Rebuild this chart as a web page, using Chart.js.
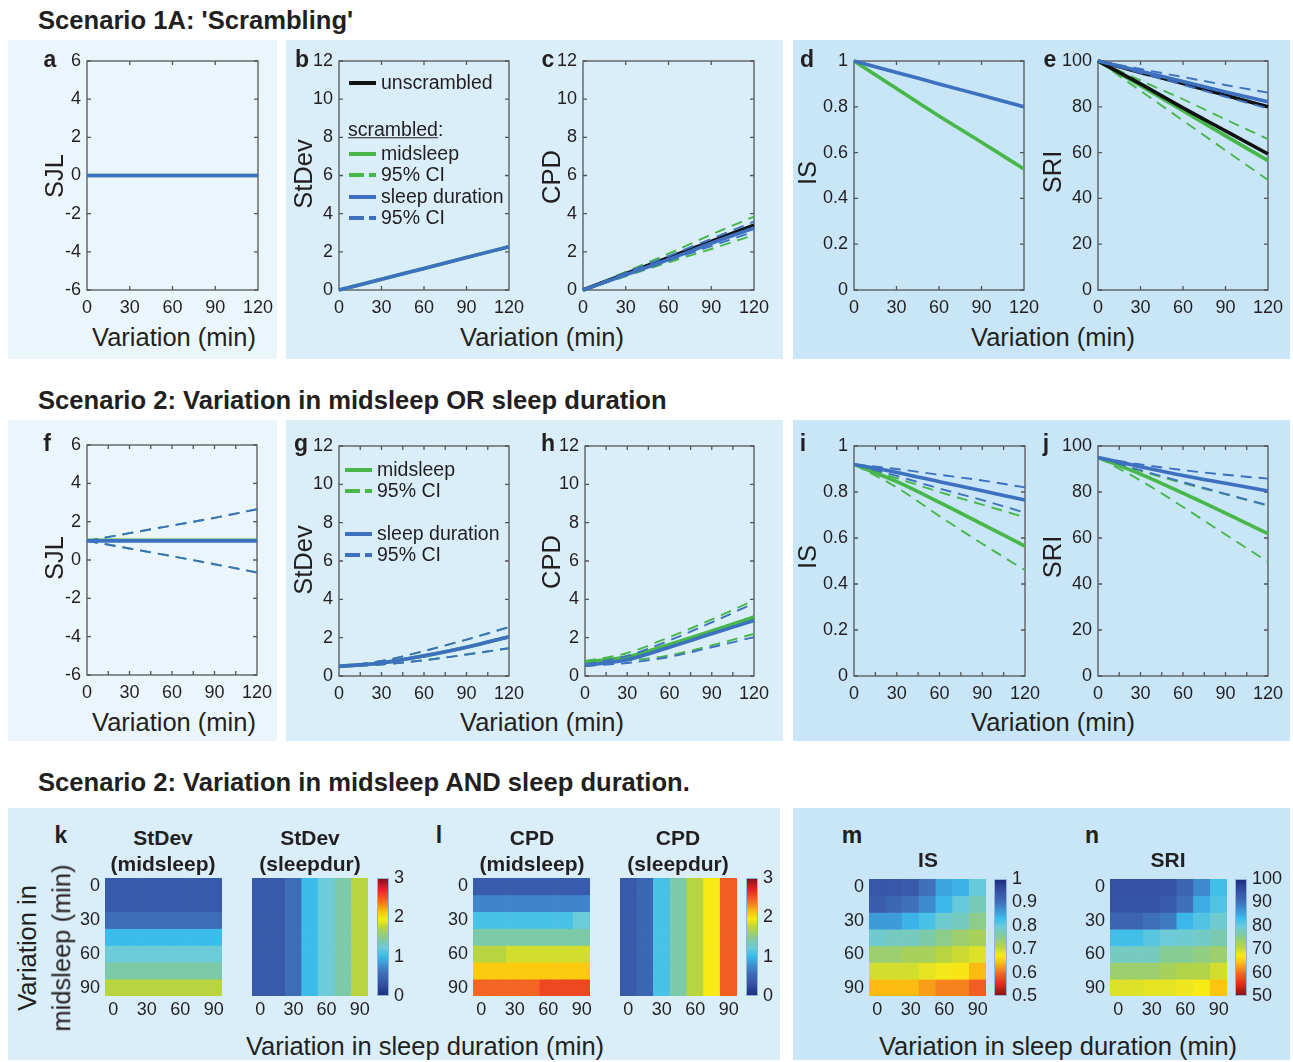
<!DOCTYPE html>
<html>
<head>
<meta charset="utf-8">
<script src="https://cdn.jsdelivr.net/npm/chart.js@4.4.0/dist/chart.umd.min.js"></script>
<style>
body { margin: 0; background: #fff; font-family: "Liberation Sans", Arial, sans-serif; color: #231f20; }
#fig { position: relative; width: 1293px; height: 1062px; overflow: hidden; }
.bg { position: absolute; }
.t { position: absolute; white-space: nowrap; line-height: 1; }
canvas { position: absolute; }
.sw { position: absolute; height: 4px; }
</style>
</head>
<body>
<div id="fig"></div>
<script>
'use strict';

// ---------- data ----------
var xs = [0, 30, 60, 90, 120];

// Scenario 1A (scrambling)
var sjlA_mid = [0, 0, 0, 0, 0];
var sjlA_dur = [0, 0, 0, 0, 0];
var sdA_mid = [0, 0.56, 1.13, 1.7, 2.27];
var sdA_dur = [0, 0.56, 1.13, 1.7, 2.27];
var cpdA_unscr = [0, 0.85, 1.7, 2.55, 3.4];
var cpdA_mid = [0, 0.83, 1.68, 2.5, 3.35];
var cpdA_midHi = [0, 0.95, 1.9, 2.9, 3.85];
var cpdA_midLo = [0, 0.72, 1.45, 2.15, 2.88];
var cpdA_dur = [0, 0.8, 1.6, 2.45, 3.25];
var cpdA_durHi = [0, 0.9, 1.78, 2.68, 3.58];
var cpdA_durLo = [0, 0.77, 1.53, 2.3, 3.06];
var isA_mid = [1, 0.88, 0.76, 0.645, 0.528];
var isA_dur = [1, 0.95, 0.9, 0.85, 0.8];
var sriA_unscrMid = [100, 90, 79.5, 69.5, 59.4];
var sriA_unscrDur = [100, 95, 90.2, 85, 80];
var sriA_mid = [100, 89.2, 78.3, 67.3, 56.5];
var sriA_midHi = [100, 91.5, 83.3, 74.5, 65.9];
var sriA_midLo = [100, 87, 74, 61, 48];
var sriA_dur = [100, 95.5, 91, 86.5, 82.2];
var sriA_durHi = [100, 96.5, 93, 89.5, 86.2];
var sriA_durLo = [100, 94.8, 89.6, 84.4, 79.3];

// Scenario 2 (midsleep OR sleep duration)
var sjlB_mid = [1.03, 1.03, 1.03, 1.03, 1.03];
var sjlB_midHi = [1, 1.4, 1.8, 2.2, 2.65];
var sjlB_midLo = [1, 0.6, 0.2, -0.22, -0.65];
var sjlB_dur = [1, 1, 1, 1, 1];
var sjlB_durHi = [1, 1.4, 1.8, 2.2, 2.65];
var sjlB_durLo = [1, 0.6, 0.2, -0.22, -0.65];
var sdB_mid = [0.5, 0.68, 1.05, 1.5, 2.05];
var sdB_midHi = [0.5, 0.78, 1.3, 1.9, 2.55];
var sdB_midLo = [0.5, 0.6, 0.82, 1.12, 1.45];
var sdB_dur = [0.5, 0.68, 1.05, 1.5, 2.05];
var sdB_durHi = [0.5, 0.78, 1.3, 1.9, 2.55];
var sdB_durLo = [0.5, 0.6, 0.82, 1.12, 1.45];
var cpdB_mid = [0.73, 1.0, 1.65, 2.35, 3.08];
var cpdB_midHi = [0.78, 1.2, 2.03, 2.95, 3.95];
var cpdB_midLo = [0.68, 0.8, 1.08, 1.6, 2.2];
var cpdB_dur = [0.56, 0.85, 1.5, 2.2, 2.9];
var cpdB_durHi = [0.6, 1.05, 1.86, 2.8, 3.8];
var cpdB_durLo = [0.52, 0.68, 1.0, 1.5, 2.03];
var isB_mid = [0.92, 0.845, 0.755, 0.66, 0.565];
var isB_midHi = [0.92, 0.86, 0.8, 0.745, 0.69];
var isB_midLo = [0.92, 0.82, 0.695, 0.575, 0.46];
var isB_dur = [0.92, 0.885, 0.845, 0.805, 0.765];
var isB_durHi = [0.92, 0.9, 0.875, 0.85, 0.82];
var isB_durLo = [0.92, 0.87, 0.815, 0.765, 0.71];
var sriB_mid = [95, 87.8, 79.5, 70.8, 61.9];
var sriB_midHi = [95, 89.2, 83.9, 79, 74];
var sriB_midLo = [95, 85, 73.5, 61.5, 49.6];
var sriB_dur = [95, 91, 87.2, 83.8, 80.4];
var sriB_durHi = [95, 92, 89.5, 87.5, 85.8];
var sriB_durLo = [95, 89.5, 84.3, 79.2, 74.2];

// Scenario 2 (midsleep AND sleep duration): rows = midsleep variation, cols = sleep duration variation
var gridMins = ['0', '15', '30', '45', '60', '75', '90'];
var sdMid = [
  [0.39, 0.39, 0.39, 0.39, 0.39, 0.39, 0.39],
  [0.39, 0.39, 0.39, 0.39, 0.39, 0.39, 0.39],
  [0.57, 0.57, 0.57, 0.57, 0.57, 0.57, 0.57],
  [1.02, 1.02, 1.02, 1.02, 1.02, 1.02, 1.02],
  [1.23, 1.23, 1.23, 1.23, 1.23, 1.23, 1.23],
  [1.41, 1.41, 1.41, 1.41, 1.41, 1.41, 1.41],
  [1.74, 1.74, 1.74, 1.74, 1.74, 1.74, 1.74]
];
var sdDur = [
  [0.39, 0.39, 0.57, 1.02, 1.23, 1.41, 1.74],
  [0.39, 0.39, 0.57, 1.02, 1.23, 1.41, 1.74],
  [0.39, 0.39, 0.57, 1.02, 1.23, 1.41, 1.74],
  [0.39, 0.39, 0.57, 1.02, 1.23, 1.41, 1.74],
  [0.39, 0.39, 0.57, 1.02, 1.23, 1.41, 1.74],
  [0.39, 0.39, 0.57, 1.02, 1.23, 1.41, 1.74],
  [0.39, 0.39, 0.57, 1.02, 1.23, 1.41, 1.74]
];
var cpdMid = [
  [0.42, 0.42, 0.42, 0.42, 0.42, 0.42, 0.42],
  [0.72, 0.72, 0.72, 0.72, 0.72, 0.72, 0.72],
  [1.08, 1.08, 1.08, 1.08, 1.08, 1.08, 1.23],
  [1.41, 1.41, 1.41, 1.41, 1.41, 1.41, 1.41],
  [1.74, 1.74, 1.83, 1.83, 1.83, 1.83, 1.83],
  [2.1, 2.1, 2.1, 2.1, 2.1, 2.1, 2.1],
  [2.43, 2.43, 2.43, 2.43, 2.55, 2.55, 2.55]
];
var cpdDur = [
  [0.39, 0.51, 1.08, 1.41, 1.74, 1.95, 2.46],
  [0.39, 0.51, 1.08, 1.41, 1.74, 1.95, 2.46],
  [0.39, 0.51, 1.08, 1.41, 1.74, 1.95, 2.46],
  [0.39, 0.51, 1.08, 1.41, 1.74, 1.95, 2.46],
  [0.39, 0.51, 1.08, 1.41, 1.74, 1.95, 2.46],
  [0.39, 0.51, 1.08, 1.41, 1.74, 1.95, 2.46],
  [0.39, 0.51, 1.08, 1.41, 1.74, 1.95, 2.46]
];
var isGrid = [
  [0.94, 0.94, 0.935, 0.9, 0.85, 0.84, 0.8],
  [0.93, 0.915, 0.9, 0.875, 0.835, 0.8, 0.775],
  [0.86, 0.86, 0.84, 0.82, 0.79, 0.78, 0.75],
  [0.79, 0.78, 0.78, 0.765, 0.75, 0.735, 0.725],
  [0.735, 0.735, 0.725, 0.725, 0.71, 0.7, 0.69],
  [0.695, 0.695, 0.695, 0.685, 0.6775, 0.67, 0.64],
  [0.64, 0.64, 0.64, 0.625, 0.61, 0.61, 0.59]
];
var sriGrid = [
  [95, 95, 95, 94.5, 92, 87.5, 82.5],
  [94.5, 94.5, 94.5, 93.5, 90, 84.5, 81.5],
  [92, 92, 90, 89, 83.5, 81.5, 79],
  [82.5, 82.5, 81, 79.5, 79, 78.5, 77],
  [78, 78, 78, 75.5, 75.5, 74.5, 73.5],
  [73.5, 73.5, 73.5, 72.5, 71.5, 71.5, 69.5],
  [69, 69, 68.5, 68.5, 68, 67.5, 64.5]
];

// ---------- styles ----------
var BLUE = '#3e70c0';
var GREEN = '#47b749';
var BLACK = '#111111';
var INK = '#231f20';
var FONT = '"Liberation Sans", Arial, sans-serif';
var TICK = 18;
var cmapStops = [
  [0, '#1d2b7d'], [0.1, '#3551a4'], [0.2, '#3f70b9'], [0.27, '#3d95d6'], [0.34, '#3bbdec'],
  [0.41, '#6ecbd8'], [0.47, '#7ccaa8'], [0.58, '#b8d43e'], [0.65, '#f8ea17'], [0.71, '#fdc50f'],
  [0.81, '#f26522'], [0.9, '#ea2424'], [1, '#7d1315']
];

Chart.defaults.font.family = FONT;
Chart.defaults.color = INK;

var fig = document.getElementById('fig');

function hex(c) { return [parseInt(c.substr(1, 2), 16), parseInt(c.substr(3, 2), 16), parseInt(c.substr(5, 2), 16)]; }
function cmap(t) {
  t = Math.max(0, Math.min(1, t));
  for (var i = 1; i < cmapStops.length; i++) {
    if (t <= cmapStops[i][0]) {
      var a = cmapStops[i - 1], b = cmapStops[i];
      var f = (t - a[0]) / (b[0] - a[0]);
      var ca = hex(a[1]), cb = hex(b[1]);
      return 'rgb(' + Math.round(ca[0] + (cb[0] - ca[0]) * f) + ',' + Math.round(ca[1] + (cb[1] - ca[1]) * f) + ',' + Math.round(ca[2] + (cb[2] - ca[2]) * f) + ')';
    }
  }
  return cmapStops[cmapStops.length - 1][1];
}
function fmt(v) { return String(Math.round(v * 100) / 100); }

function bg(x0, y0, x1, y1, col) {
  var d = document.createElement('div');
  d.className = 'bg';
  d.style.cssText = 'left:' + x0 + 'px;top:' + y0 + 'px;width:' + (x1 - x0) + 'px;height:' + (y1 - y0) + 'px;background:' + col;
  fig.appendChild(d);
}

function T(txt, x, y, size, bold, mode) {
  var d = document.createElement('div');
  d.className = 't';
  d.innerHTML = txt;
  var tr = 'translate(-50%,-50%)';
  if (mode === 'left') tr = 'translate(0,-50%)';
  if (mode === 'rot') tr = 'translate(-50%,-50%) rotate(-90deg)';
  d.style.cssText = 'left:' + x + 'px;top:' + y + 'px;font-size:' + size + 'px;font-weight:' + (bold ? 'bold' : 'normal') + ';transform:' + tr;
  fig.appendChild(d);
}

function swatch(x, y, col, dashed) {
  if (!dashed) {
    var s = document.createElement('div');
    s.className = 'sw';
    s.style.cssText = 'left:' + x + 'px;top:' + (y - 2) + 'px;width:27px;background:' + col;
    fig.appendChild(s);
  } else {
    [[0, 15], [20, 7]].forEach(function (p) {
      var s = document.createElement('div');
      s.className = 'sw';
      s.style.cssText = 'left:' + (x + p[0]) + 'px;top:' + (y - 2) + 'px;width:' + p[1] + 'px;background:' + col;
      fig.appendChild(s);
    });
  }
}

// box with inward ticks, MATLAB style
var boxPlugin = {
  id: 'boxTicks',
  beforeDatasetsDraw: function (chart, args, opts) {
    var a = chart.chartArea, ctx = chart.ctx, sx = chart.scales.x, sy = chart.scales.y;
    ctx.save();
    ctx.strokeStyle = '#555';
    ctx.lineWidth = 1.3;
    ctx.strokeRect(a.left, a.top, a.right - a.left, a.bottom - a.top);
    ctx.beginPath();
    for (var v = sx.min + opts.minor; v < sx.max; v += opts.minor) {
      var px = sx.getPixelForValue(v);
      ctx.moveTo(px, a.bottom); ctx.lineTo(px, a.bottom - 4);
      ctx.moveTo(px, a.top); ctx.lineTo(px, a.top + 4);
    }
    sy.ticks.forEach(function (t) {
      var py = sy.getPixelForValue(t.value);
      ctx.moveTo(a.left, py); ctx.lineTo(a.left + 4, py);
      ctx.moveTo(a.right, py); ctx.lineTo(a.right - 4, py);
    });
    ctx.stroke();
    ctx.restore();
  }
};

function line(vals, col, dashed) {
  return {
    data: xs.map(function (x, i) { return { x: x, y: vals[i] }; }),
    borderColor: col,
    borderWidth: dashed ? 1.9 : 3.6,
    borderDash: dashed ? [11, 7] : [],
    clip: 3
  };
}

var noGrid = { display: false, drawTicks: false };

function lineChart(box, yMin, yMax, yStep, minor, sets) {
  var padL = 40, padT = 12, padR = 24, padB = 32;
  var c = document.createElement('canvas');
  c.width = box[2] - box[0] + padL + padR;
  c.height = box[3] - box[1] + padT + padB;
  c.style.left = (box[0] - padL) + 'px';
  c.style.top = (box[1] - padT) + 'px';
  fig.appendChild(c);
  new Chart(c, {
    type: 'line',
    data: { datasets: sets },
    options: {
      responsive: false, animation: false, events: [],
      layout: { padding: { top: padT, right: padR } },
      elements: { point: { radius: 0 }, line: { borderCapStyle: 'butt', cubicInterpolationMode: 'monotone' } },
      plugins: { legend: { display: false }, tooltip: { enabled: false }, boxTicks: { minor: minor } },
      scales: {
        x: {
          type: 'linear', min: 0, max: 120,
          ticks: { stepSize: 30, padding: 7, maxRotation: 0, autoSkip: false, font: { size: TICK }, color: INK },
          grid: noGrid, border: { display: false },
          afterFit: function (s) { s.height = padB; s.paddingLeft = 0; s.paddingRight = 0; }
        },
        y: {
          type: 'linear', min: yMin, max: yMax,
          ticks: { stepSize: yStep, padding: 6, autoSkip: false, font: { size: TICK }, color: INK, callback: fmt },
          grid: noGrid, border: { display: false },
          afterFit: function (s) { s.width = padL; s.paddingTop = 0; s.paddingBottom = 0; }
        }
      }
    },
    plugins: [boxPlugin]
  });
}

function heatmap(box, grid, cmin, cmax, rev, showY) {
  var padL = showY ? 36 : 6, padT = 4, padR = 16, padB = 28;
  var c = document.createElement('canvas');
  c.width = box[2] - box[0] + padL + padR;
  c.height = box[3] - box[1] + padT + padB;
  c.style.left = (box[0] - padL) + 'px';
  c.style.top = (box[1] - padT) + 'px';
  fig.appendChild(c);
  var sets = grid.map(function (row) {
    return {
      data: row.map(function () { return 1; }),
      backgroundColor: row.map(function (v) {
        var t = (v - cmin) / (cmax - cmin);
        return cmap(rev ? 1 - t : t);
      }),
      borderWidth: 0, categoryPercentage: 1, barPercentage: 1
    };
  });
  new Chart(c, {
    type: 'bar',
    data: { labels: gridMins, datasets: sets },
    options: {
      responsive: false, animation: false, events: [],
      layout: { padding: { top: padT, right: padR } },
      plugins: { legend: { display: false }, tooltip: { enabled: false } },
      scales: {
        x: {
          stacked: true,
          ticks: {
            autoSkip: false, maxRotation: 0, padding: 3, font: { size: TICK }, color: INK,
            callback: function (v, i) { return Number(gridMins[i]) % 30 === 0 ? gridMins[i] : ''; }
          },
          grid: noGrid, border: { display: false },
          afterFit: function (s) { s.height = padB; s.paddingLeft = 0; s.paddingRight = 0; }
        },
        y: {
          stacked: true, reverse: true, min: 0, max: grid.length,
          afterBuildTicks: function (s) {
            s.ticks = gridMins.map(function (m, i) { return { value: i + 0.5, m: m }; })
              .filter(function (t) { return Number(t.m) % 30 === 0; })
              .map(function (t) { return { value: t.value }; });
          },
          ticks: {
            display: showY, autoSkip: false, padding: 5, font: { size: TICK }, color: INK,
            callback: function (v) { return gridMins[Math.floor(v)]; }
          },
          grid: noGrid, border: { display: false },
          afterFit: function (s) { s.width = padL; s.paddingTop = 0; s.paddingBottom = 0; }
        }
      }
    }
  });
}

var barPlugin = {
  id: 'cbar',
  beforeDraw: function (chart, args, opts) {
    var a = chart.chartArea, ctx = chart.ctx;
    var g = opts.rev ? ctx.createLinearGradient(0, a.top, 0, a.bottom) : ctx.createLinearGradient(0, a.bottom, 0, a.top);
    cmapStops.forEach(function (s) { g.addColorStop(s[0], s[1]); });
    ctx.save();
    ctx.fillStyle = g;
    ctx.fillRect(a.left, a.top, a.right - a.left, a.bottom - a.top);
    ctx.strokeStyle = '#8fb3d9';
    ctx.lineWidth = 1;
    ctx.strokeRect(a.left + 0.5, a.top + 0.5, a.right - a.left - 1, a.bottom - a.top - 1);
    ctx.restore();
  }
};

function colorbar(box, min, max, step, rev) {
  var padT = 10, padB = 10, padR = 44;
  var c = document.createElement('canvas');
  c.width = box[2] - box[0] + padR;
  c.height = box[3] - box[1] + padT + padB;
  c.style.left = box[0] + 'px';
  c.style.top = (box[1] - padT) + 'px';
  fig.appendChild(c);
  new Chart(c, {
    type: 'bar',
    data: { labels: [''], datasets: [] },
    options: {
      responsive: false, animation: false, events: [],
      layout: { padding: { top: padT, bottom: padB } },
      plugins: { legend: { display: false }, tooltip: { enabled: false }, cbar: { rev: rev } },
      scales: {
        x: { display: false },
        y: {
          position: 'right', min: min, max: max,
          ticks: { stepSize: step, padding: 5, autoSkip: false, font: { size: TICK }, color: INK, callback: fmt },
          grid: noGrid, border: { display: false },
          afterFit: function (s) { s.width = padR; s.paddingTop = 0; s.paddingBottom = 0; }
        }
      }
    },
    plugins: [barPlugin]
  });
}

// ---------- backgrounds ----------
var C1 = '#eaf6fc', C2 = '#d9eef9', C3 = '#c8e6f7';
bg(8, 40, 277, 359, C1); bg(286, 40, 783, 359, C2); bg(793, 40, 1290, 359, C3);
bg(8, 420, 277, 741, C1); bg(286, 420, 783, 741, C2); bg(793, 420, 1290, 741, C3);
bg(8, 808, 780, 1060, C2); bg(793, 808, 1290, 1060, C3);

// ---------- scenario 1A ----------
lineChart([87, 61, 258, 290], -6, 6, 2, 30, [line(sjlA_dur, BLUE), line(sjlA_mid, GREEN)]);
lineChart([339, 61, 509, 290], 0, 12, 2, 30, [line(sdA_dur, BLUE), line(sdA_mid, GREEN)]);
lineChart([583, 61, 754, 290], 0, 12, 2, 30, [
  line(cpdA_dur, BLUE), line(cpdA_durHi, BLUE, true), line(cpdA_durLo, BLUE, true),
  line(cpdA_unscr, BLACK),
  line(cpdA_mid, GREEN), line(cpdA_midHi, GREEN, true), line(cpdA_midLo, GREEN, true)
]);
lineChart([854, 61, 1024, 290], 0, 1, 0.2, 30, [line(isA_dur, BLUE), line(isA_mid, GREEN)]);
lineChart([1098, 61, 1268, 290], 0, 100, 20, 30, [
  line(sriA_dur, BLUE), line(sriA_durHi, BLUE, true), line(sriA_durLo, BLUE, true),
  line(sriA_unscrDur, BLACK), line(sriA_unscrMid, BLACK),
  line(sriA_mid, GREEN), line(sriA_midHi, GREEN, true), line(sriA_midLo, GREEN, true)
]);

// ---------- scenario 2 (OR) ----------
lineChart([87, 445, 257, 675], -6, 6, 2, 15, [
  line(sjlB_dur, BLUE), line(sjlB_durHi, BLUE, true), line(sjlB_durLo, BLUE, true),
  line(sjlB_mid, GREEN), line(sjlB_midHi, GREEN, true), line(sjlB_midLo, GREEN, true)
]);
lineChart([339, 446, 509, 676], 0, 12, 2, 15, [
  line(sdB_dur, BLUE), line(sdB_durHi, BLUE, true), line(sdB_durLo, BLUE, true),
  line(sdB_mid, GREEN), line(sdB_midHi, GREEN, true), line(sdB_midLo, GREEN, true)
]);
lineChart([585, 446, 754, 676], 0, 12, 2, 15, [
  line(cpdB_dur, BLUE), line(cpdB_durHi, BLUE, true), line(cpdB_durLo, BLUE, true),
  line(cpdB_mid, GREEN), line(cpdB_midHi, GREEN, true), line(cpdB_midLo, GREEN, true)
]);
lineChart([854, 446, 1025, 676], 0, 1, 0.2, 15, [
  line(isB_dur, BLUE), line(isB_durHi, BLUE, true), line(isB_durLo, BLUE, true),
  line(isB_mid, GREEN), line(isB_midHi, GREEN, true), line(isB_midLo, GREEN, true)
]);
lineChart([1098, 446, 1268, 676], 0, 100, 20, 15, [
  line(sriB_dur, BLUE), line(sriB_durHi, BLUE, true), line(sriB_durLo, BLUE, true),
  line(sriB_mid, GREEN), line(sriB_midHi, GREEN, true), line(sriB_midLo, GREEN, true)
]);

// ---------- scenario 2 (AND) heatmaps ----------
heatmap([105, 878, 222, 996], sdMid, 0, 3, false, true);
heatmap([252, 878, 368, 996], sdDur, 0, 3, false, false);
colorbar([377, 878, 389, 996], 0, 3, 1, false);
heatmap([473, 878, 590, 996], cpdMid, 0, 3, false, true);
heatmap([620, 878, 737, 996], cpdDur, 0, 3, false, false);
colorbar([746, 878, 758, 996], 0, 3, 1, false);
heatmap([869, 879, 986, 996], isGrid, 0.5, 1, true, true);
colorbar([994, 879, 1007, 996], 0.5, 1, 0.1, true);
heatmap([1110, 879, 1227, 996], sriGrid, 50, 100, true, true);
colorbar([1235, 879, 1247, 996], 50, 100, 10, true);

// ---------- text ----------
T("Scenario 1A: 'Scrambling'", 38, 21, 25.6, true, 'left');
T('Scenario 2: Variation in midsleep OR sleep duration', 38, 401, 25.6, true, 'left');
T('Scenario 2: Variation in midsleep AND sleep duration.', 38, 783, 25.6, true, 'left');

T('a', 50, 59, 23, true); T('b', 302, 59, 23, true); T('c', 548, 59, 23, true);
T('d', 807, 59, 23, true); T('e', 1050, 59, 23, true);
T('f', 47, 443, 23, true); T('g', 301, 443, 23, true); T('h', 548, 443, 23, true);
T('i', 803, 443, 23, true); T('j', 1046, 443, 23, true);
T('k', 61, 835, 23, true); T('l', 439, 835, 23, true); T('m', 852, 835, 23, true); T('n', 1092, 835, 23, true);

T('SJL', 55, 176, 25.5, false, 'rot'); T('StDev', 304, 174, 25.5, false, 'rot'); T('CPD', 552, 177, 25.5, false, 'rot');
T('IS', 808, 173, 25.5, false, 'rot'); T('SRI', 1053, 172, 25.5, false, 'rot');
T('Variation (min)', 174, 338, 25.5); T('Variation (min)', 542, 338, 25.5); T('Variation (min)', 1053, 338, 25.5);

T('SJL', 55, 558, 25.5, false, 'rot'); T('StDev', 304, 560, 25.5, false, 'rot'); T('CPD', 552, 562, 25.5, false, 'rot');
T('IS', 808, 557, 25.5, false, 'rot'); T('SRI', 1053, 557, 25.5, false, 'rot');
T('Variation (min)', 174, 723, 25.5); T('Variation (min)', 542, 723, 25.5); T('Variation (min)', 1053, 723, 25.5);

T('StDev', 163, 837, 21, true); T('(midsleep)', 163, 863, 21, true);
T('StDev', 310, 837, 21, true); T('(sleepdur)', 310, 863, 21, true);
T('CPD', 532, 837, 21, true); T('(midsleep)', 532, 863, 21, true);
T('CPD', 678, 837, 21, true); T('(sleepdur)', 678, 863, 21, true);
T('IS', 928, 859, 21, true); T('SRI', 1168, 859, 21, true);
T('Variation in', 28, 948, 25.5, false, 'rot'); T('midsleep (min)', 62, 948, 25.5, false, 'rot');
T('Variation in sleep duration (min)', 425, 1047, 25.5); T('Variation in sleep duration (min)', 1058, 1047, 25.5);

// ---------- legends ----------
swatch(349, 83, BLACK); T('unscrambled', 381, 83, 19.5, false, 'left');
T('<u>scrambled</u>:', 348, 130, 19.5, false, 'left');
swatch(349, 154, GREEN); T('midsleep', 381, 154, 19.5, false, 'left');
swatch(349, 175, GREEN, true); T('95% CI', 381, 175, 19.5, false, 'left');
swatch(349, 197, BLUE); T('sleep duration', 381, 197, 19.5, false, 'left');
swatch(349, 218, BLUE, true); T('95% CI', 381, 218, 19.5, false, 'left');

swatch(345, 470, GREEN); T('midsleep', 377, 470, 19.5, false, 'left');
swatch(345, 491, GREEN, true); T('95% CI', 377, 491, 19.5, false, 'left');
swatch(345, 534, BLUE); T('sleep duration', 377, 534, 19.5, false, 'left');
swatch(345, 555, BLUE, true); T('95% CI', 377, 555, 19.5, false, 'left');
</script>
</body>
</html>
